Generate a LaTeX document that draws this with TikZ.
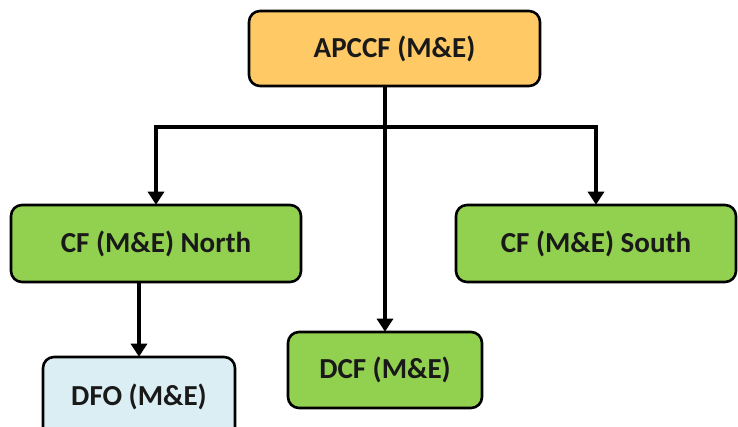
\documentclass[tikz,border=0pt]{standalone}
\usepackage{fontspec}
\setmainfont{Carlito}
\usetikzlibrary{arrows.meta,calc}
\definecolor{topfill}{HTML}{FFC966}
\definecolor{greenfill}{HTML}{92D050}
\definecolor{bluefill}{HTML}{DBEEF4}
\tikzset{
  orgbox/.style={draw=black, line width=2.6pt, rounded corners=11pt, inner sep=0pt,
     font=\fontsize{29}{32}\selectfont\bfseries, text=black!90},
  conn/.style={line width=3.2pt, draw=black},
  arr/.style={conn, -{Triangle[width=16pt,length=13pt]}, shorten >=-1pt}
}
\begin{document}
\begin{tikzpicture}[x=1pt,y=1pt]
\useasboundingbox (0,0) rectangle (738,427);
\node[orgbox, fill=topfill, minimum width=291pt, minimum height=75pt] (top) at (394.5,378.5) {APCCF (M\&E)};
\node[orgbox, fill=greenfill, minimum width=290pt, minimum height=77pt] (north) at (156,183.5) {CF (M\&E) North};
\node[orgbox, fill=greenfill, minimum width=280pt, minimum height=77pt] (south) at (596,183.5) {CF (M\&E) South};
\node[orgbox, fill=greenfill, minimum width=194pt, minimum height=76pt] (dcf) at (385,57) {DCF (M\&E)};
\node[orgbox, fill=bluefill, minimum width=192pt, minimum height=90pt, text depth=0pt] (dfo) at (139,25) {\raisebox{14pt}{DFO (M\&E)}};
\coordinate (bus) at (0,300);
\draw[arr] (top.south -| dcf.north) -- (dcf.north);
\draw[arr] (bus -| dcf.north) -| (north.north);
\draw[arr] (bus -| dcf.north) -| (south.north);
\draw[arr] (north.south -| dfo.north) -- (dfo.north);
\end{tikzpicture}
\end{document}
